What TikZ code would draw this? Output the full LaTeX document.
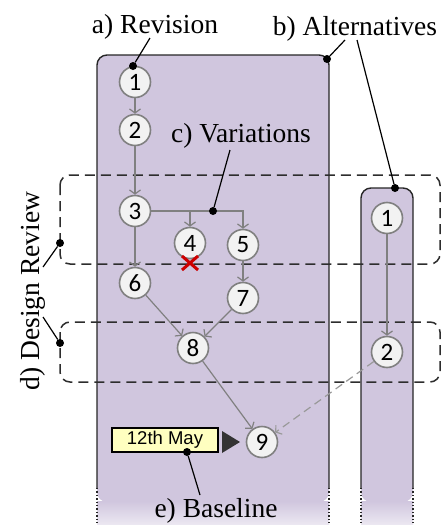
\documentclass[tikz,border=0pt]{standalone}
\usepackage{fontspec}
\setmainfont{Liberation Serif}
\newfontfamily\numfont{Carlito}
\newfontfamily\tagfont{Liberation Sans}
\usetikzlibrary{arrows.meta,calc}
\definecolor{lanefill}{RGB}{208,198,222}
\definecolor{nodefill}{RGB}{242,242,242}
\definecolor{edgegray}{RGB}{128,128,128}
\definecolor{boxdash}{RGB}{45,45,45}
\definecolor{mayfill}{RGB}{255,255,192}
\definecolor{xred}{RGB}{205,0,0}
\begin{document}
\begin{tikzpicture}[x=1pt,y=-1pt,
  rev/.style={circle, draw=edgegray, line width=1.6pt, fill=nodefill, minimum size=31pt, inner sep=0pt, font=\numfont\fontsize{25}{25}\selectfont},
  flow/.style={draw=edgegray, line width=1.2pt, -{Straight Barb[length=4pt,width=11pt]}},
  altflow/.style={flow, draw=edgegray!80, dash pattern=on 8pt off 5pt},
  lbl/.style={font=\fontsize{27.5}{30}\selectfont, inner sep=0pt},
  callout/.style={draw=black, line width=1.2pt},
  dot/.style={circle, fill=black, inner sep=0pt, minimum size=8pt},
  reviewbox/.style={draw=boxdash, line width=1.5pt, dash pattern=on 10pt off 6pt, rounded corners=10pt},
  laneedge/.style={draw=black!85, line width=1.4pt},
  laneend/.style={draw=black!85, line width=1.4pt, dotted},
  maybox/.style={draw=black, line width=1.2pt, fill=mayfill, minimum width=106pt, minimum height=24pt, inner sep=0pt, font=\tagfont\fontsize{18.5}{18.5}\selectfont}
]
\useasboundingbox (0,0) rectangle (441,525);

% lanes
\fill[lanefill, rounded corners=10pt] (97,502) -- (97,55) -- (329,55) -- (329,502) -- cycle;
\shade[top color=lanefill, bottom color=lanefill!40!white] (97,501) rectangle (329,525);
\draw[laneedge, rounded corners=10pt] (97,488) -- (97,55) -- (329,55) -- (329,488);
\draw[laneend] (97,488) -- (97,525);
\draw[laneend] (329,488) -- (329,525);

\fill[lanefill, rounded corners=10pt] (361,502) -- (361,188) -- (413,188) -- (413,502) -- cycle;
\shade[top color=lanefill, bottom color=lanefill!40!white] (361,501) rectangle (413,525);
\draw[laneedge, rounded corners=10pt] (361,488) -- (361,188) -- (413,188) -- (413,488);
\draw[laneend] (361,488) -- (361,525);
\draw[laneend] (413,488) -- (413,525);

% design review boxes
\draw[reviewbox] (60,175) rectangle (440,264);
\draw[reviewbox] (60,322) rectangle (440,382);

% revision nodes
\node[rev] (n1) at (135,82) {1};
\node[rev] (n2) at (135,130) {2};
\node[rev] (n3) at (135,211) {3};
\node[rev] (n4) at (190,243) {4};
\node[rev] (n5) at (243,245) {5};
\node[rev] (n6) at (135,283) {6};
\node[rev] (n7) at (243,298) {7};
\node[rev] (n8) at (193,348) {8};
\node[rev] (n9) at (262,442) {9};
\node[rev] (a1) at (387,218) {1};
\node[rev] (a2) at (387,352) {2};

% edges
\draw[flow] (n1) -- (n2);
\draw[flow] (n2) -- (n3);
\draw[flow] (n3) -- (n6);
\draw[flow] (n3.east) -- (n3 -| n5) -- (n5);
\draw[flow] (n3 -| n4) -- (n4);
\draw[flow] (n5) -- (n7);
\draw[flow] (n6) -- (n8);
\draw[flow] (n7) -- (n8);
\draw[flow] (n8) -- (n9);
\draw[flow] (a1) -- (a2);
\draw[altflow] (a2) -- (n9);

% rejected variation
\draw[xred, line width=3pt] (182,256) -- (198,270);
\draw[xred, line width=3pt] (182,270) -- (198,256);

% baseline tag
\node[maybox] (may) at (165,440) {12th May};
\fill[black!80] (222,431) -- (240,442) -- (222,453) -- cycle;

% labels
\node[lbl, anchor=base] (la) at (155,33) {a) Revision};
\node[lbl, anchor=base] (lb) at (355,35) {b) Alternatives};
\node[lbl, anchor=base] (lc) at (241,142) {c) Variations};
\node[lbl, anchor=base, rotate=90] (ld) at (39,291) {d) Design Review};
\node[lbl, anchor=base] (le) at (216,517) {e) Baseline};

% callouts
\coordinate (ca) at (150,38);
\coordinate (cb1) at (345,40);
\coordinate (cb2) at (357,40);
\coordinate (cc) at (230,150);
\coordinate (cd1) at (43,267);
\coordinate (cd2) at (43,317);
\coordinate (ce) at (200,495);

\node[dot] (da) at (133,66) {};
\node[dot] (db1) at (327,59) {};
\node[dot] (db2) at (395,188) {};
\node[dot] (dc) at (213,211) {};
\node[dot] (dd1) at (60,243) {};
\node[dot] (dd2) at (60,343) {};
\node[dot] (de) at (187,452) {};

\draw[callout] (ca) -- (da);
\draw[callout] (cb1) -- (db1);
\draw[callout] (cb2) -- (db2);
\draw[callout] (cc) -- (dc);
\draw[callout] (cd1) -- (dd1);
\draw[callout] (cd2) -- (dd2);
\draw[callout] (ce) -- (de);
\end{tikzpicture}
\end{document}
